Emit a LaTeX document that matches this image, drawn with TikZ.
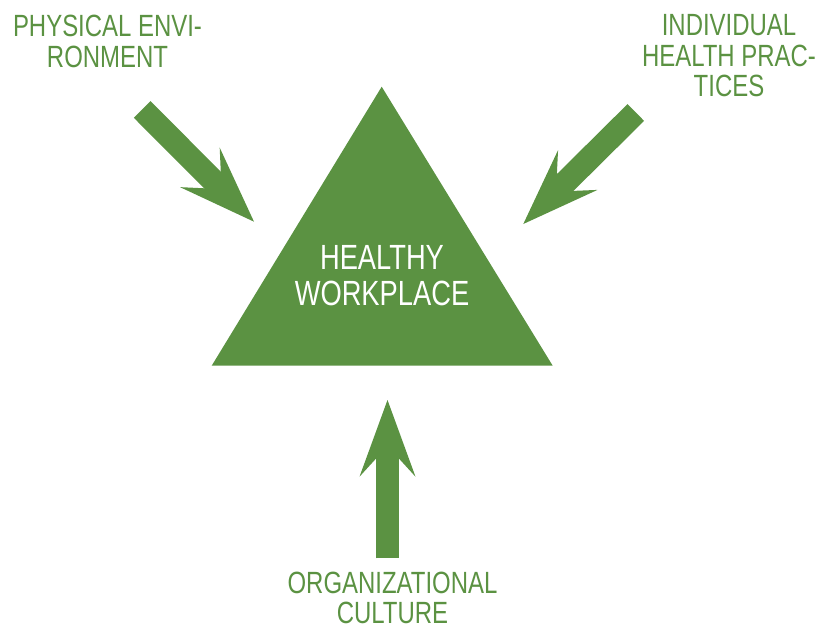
\documentclass[tikz,border=0pt]{standalone}
\usepackage{fontspec}
\setmainfont{Liberation Sans}[FakeStretch=0.78]
\usetikzlibrary{arrows.meta}
\definecolor{verdeHW}{RGB}{91,146,66}

\begin{document}
\begin{tikzpicture}[
  x=1pt, y=-1pt,
  lbl/.style = {anchor=north, inner sep=0pt, align=center, text=verdeHW,
                font=\fontsize{30.7}{30.5}\selectfont},
  big/.style = {anchor=north, inner sep=0pt, align=center, text=white,
                font=\fontsize{35}{36}\selectfont},
  arr/.style = {-{Stealth[length=76.7pt, width=56pt, inset=30.7pt, line width=0pt]},
                line width=23.6pt, draw=verdeHW},
]
\useasboundingbox (0,0) rectangle (815,626);

% ── Triángulo central ────────────────────────────────────────
\coordinate (A) at (381.7,86.7);
\coordinate (B) at (211.7,365.7);
\coordinate (C) at (552.7,365.7);
\fill[verdeHW] (A) -- (B) -- (C) -- cycle;
\node[big] (HW) at (382,245) {HEALTHY\\WORKPLACE};

% ── Etiquetas ────────────────────────────────────────────────
\node[lbl] (PE) at (107.5,15)  {PHYSICAL ENVI-\\RONMENT};
\node[lbl] (IP) at (729,14.3)  {INDIVIDUAL\\HEALTH PRAC-\\TICES};
\node[lbl, font=\fontsize{30.7}{30}\selectfont]
           (OC) at (392.5,572) {ORGANIZATIONAL\\CULTURE};

% ── Flechas ──────────────────────────────────────────────────
\coordinate (PEa) at (142.2,109.5);
\coordinate (PEb) at (254,221.7);
\coordinate (IPa) at (635.8,112.5);
\coordinate (IPb) at (523.3,224);
\coordinate (OCa) at (387.5,558.3);
\coordinate (OCb) at (387.5,400);

\draw[arr] (PEa) -- (PEb);
\draw[arr] (IPa) -- (IPb);
\draw[arr] (OCa) -- (OCb);

\end{tikzpicture}
\end{document}
